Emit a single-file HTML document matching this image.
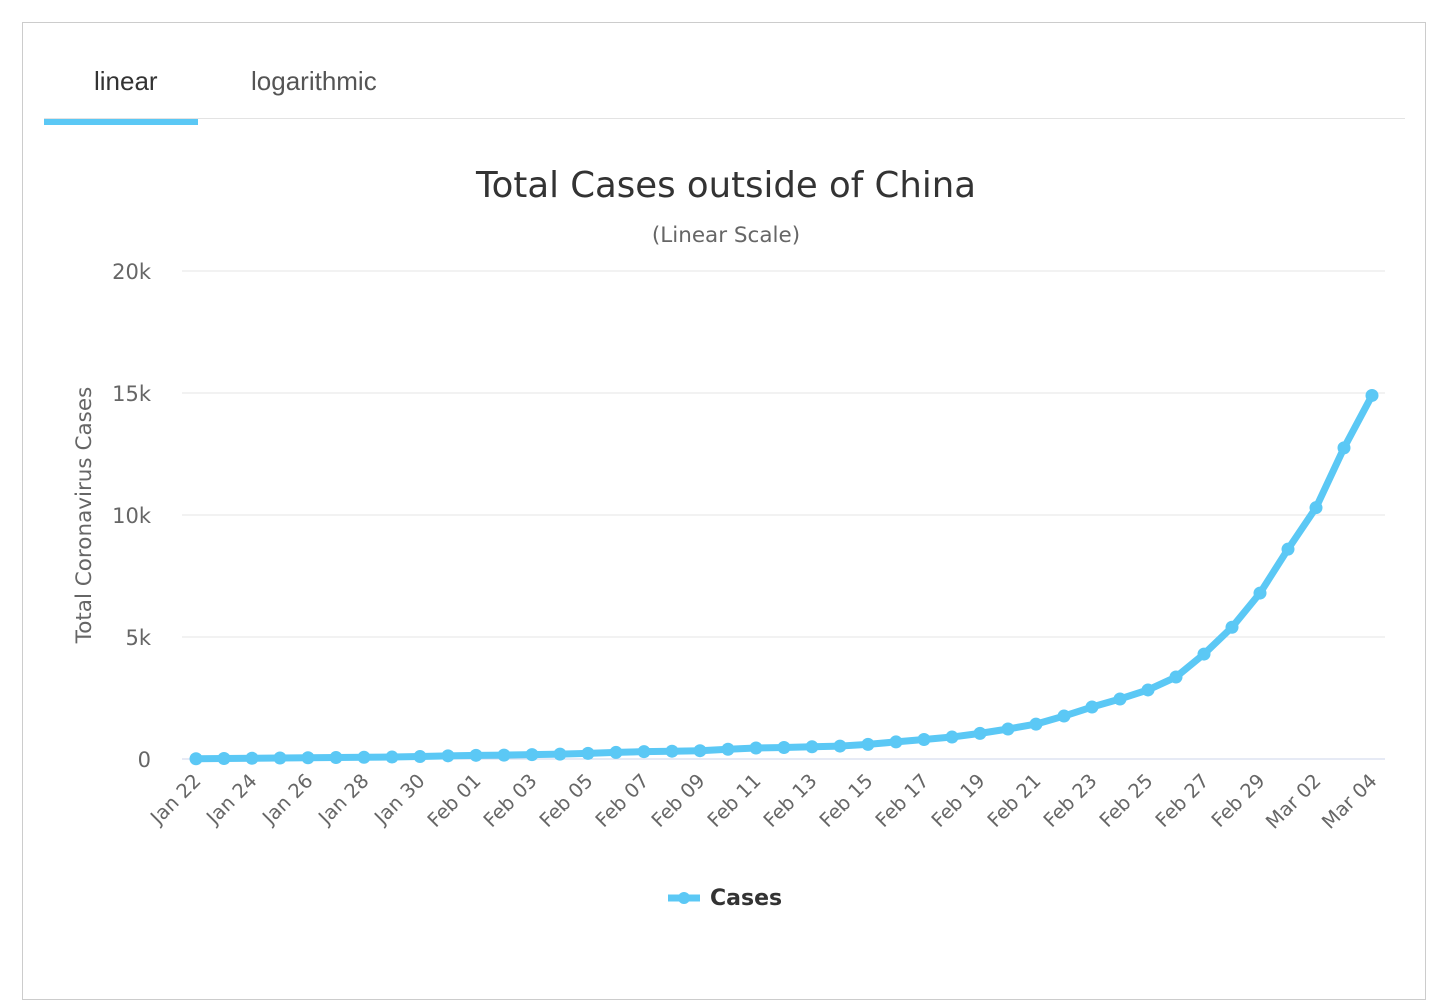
<!DOCTYPE html>
<html><head><meta charset="utf-8"><style>
body{margin:0;background:#fff;font-family:"Liberation Sans",sans-serif;}
#frame{position:absolute;left:22px;top:22px;width:1404px;height:978px;border:1px solid #ccc;box-sizing:border-box;}
.tab{position:absolute;top:66px;font-size:26px;color:#333;}
</style></head><body>
<div id="frame"></div>
<div class="tab" style="left:94px">linear</div>
<div class="tab" style="left:251px;color:#555">logarithmic</div>
<div style="position:absolute;left:44px;top:118px;width:1361px;height:1px;background:#e3e3e3"></div>
<div style="position:absolute;left:44px;top:119px;width:154px;height:6px;background:#5bc8f5"></div>
<svg id="chart" width="1448" height="1008" style="position:absolute;left:0;top:0">
<text x="726" y="197" text-anchor="middle" font-size="35.5" fill="#333" font-family="DejaVu Sans, sans-serif">Total Cases outside of China</text>
<text x="726" y="242" text-anchor="middle" font-size="21.5" fill="#666" font-family="DejaVu Sans, sans-serif">(Linear Scale)</text>
<text transform="translate(91,515) rotate(-90)" text-anchor="middle" font-size="21.5" fill="#666" font-family="DejaVu Sans, sans-serif">Total Coronavirus Cases</text>
<g id="grid"></g><g id="xlabels"></g><g id="series"></g>
<line x1="668" y1="898" x2="700" y2="898" stroke="#5bc8f5" stroke-width="7"/>
<circle cx="684" cy="898" r="6" fill="#5bc8f5"/>
<text x="710" y="905" font-size="22" font-weight="bold" fill="#333" font-family="DejaVu Sans, sans-serif">Cases</text>
</svg>
<script>
const categories=["Jan 22","Jan 23","Jan 24","Jan 25","Jan 26","Jan 27","Jan 28","Jan 29","Jan 30","Jan 31","Feb 01","Feb 02","Feb 03","Feb 04","Feb 05","Feb 06","Feb 07","Feb 08","Feb 09","Feb 10","Feb 11","Feb 12","Feb 13","Feb 14","Feb 15","Feb 16","Feb 17","Feb 18","Feb 19","Feb 20","Feb 21","Feb 22","Feb 23","Feb 24","Feb 25","Feb 26","Feb 27","Feb 28","Feb 29","Mar 01","Mar 02","Mar 03","Mar 04"];
const cases=[10,20,30,40,50,60,70,80,100,130,150,160,180,200,230,270,300,320,340,400,450,470,500,530,600,700,800,900,1050,1230,1430,1760,2130,2460,2830,3360,4300,5400,6800,8600,10300,12750,14900];
const yTicks=[0,5000,10000,15000,20000];
const yTickLabels=["0","5k","10k","15k","20k"];
const NS="http://www.w3.org/2000/svg";
const x0=196,x1=1372,yb=759,yt=271,ymax=20000;
function xs(i){return x0+(x1-x0)*i/(categories.length-1);}
function ys(v){return yb-(yb-yt)*v/ymax;}
function mk(tag,attrs,parent){const e=document.createElementNS(NS,tag);for(const k in attrs)e.setAttribute(k,attrs[k]);parent.appendChild(e);return e;}
const grid=document.getElementById('grid');
yTicks.forEach((t,i)=>{
 const l=mk('line',{x1:182,x2:1385,y1:ys(t),y2:ys(t),stroke:i==0?'#ccd6eb':'#e6e6e6','stroke-width':1},grid);
 
 
 const tx=mk('text',{x:151,y:ys(t)+8,'text-anchor':'end','font-size':21,fill:'#666','font-family':'DejaVu Sans, sans-serif'},grid);
 tx.textContent=yTickLabels[i];
 
 
});
const xl=document.getElementById('xlabels');
categories.forEach((c,i)=>{
 if(i%2)return;
 const t=mk('text',{transform:`translate(${xs(i)+6},${782}) rotate(-45)`,'text-anchor':'end','font-size':19.5,fill:'#666','font-family':'DejaVu Sans, sans-serif'},xl);
 t.textContent=c;
 
 
});
const s=document.getElementById('series');
const p=mk('polyline',{points:cases.map((v,i)=>xs(i)+','+ys(v)).join(' '),fill:'none',stroke:'#5bc8f5','stroke-width':7,'stroke-linejoin':'round'},s);


cases.forEach((v,i)=>{
 const c=mk('circle',{cx:xs(i),cy:ys(v),r:6.5,fill:'#5bc8f5'},s);
 
 
});
</script>
</body></html>
